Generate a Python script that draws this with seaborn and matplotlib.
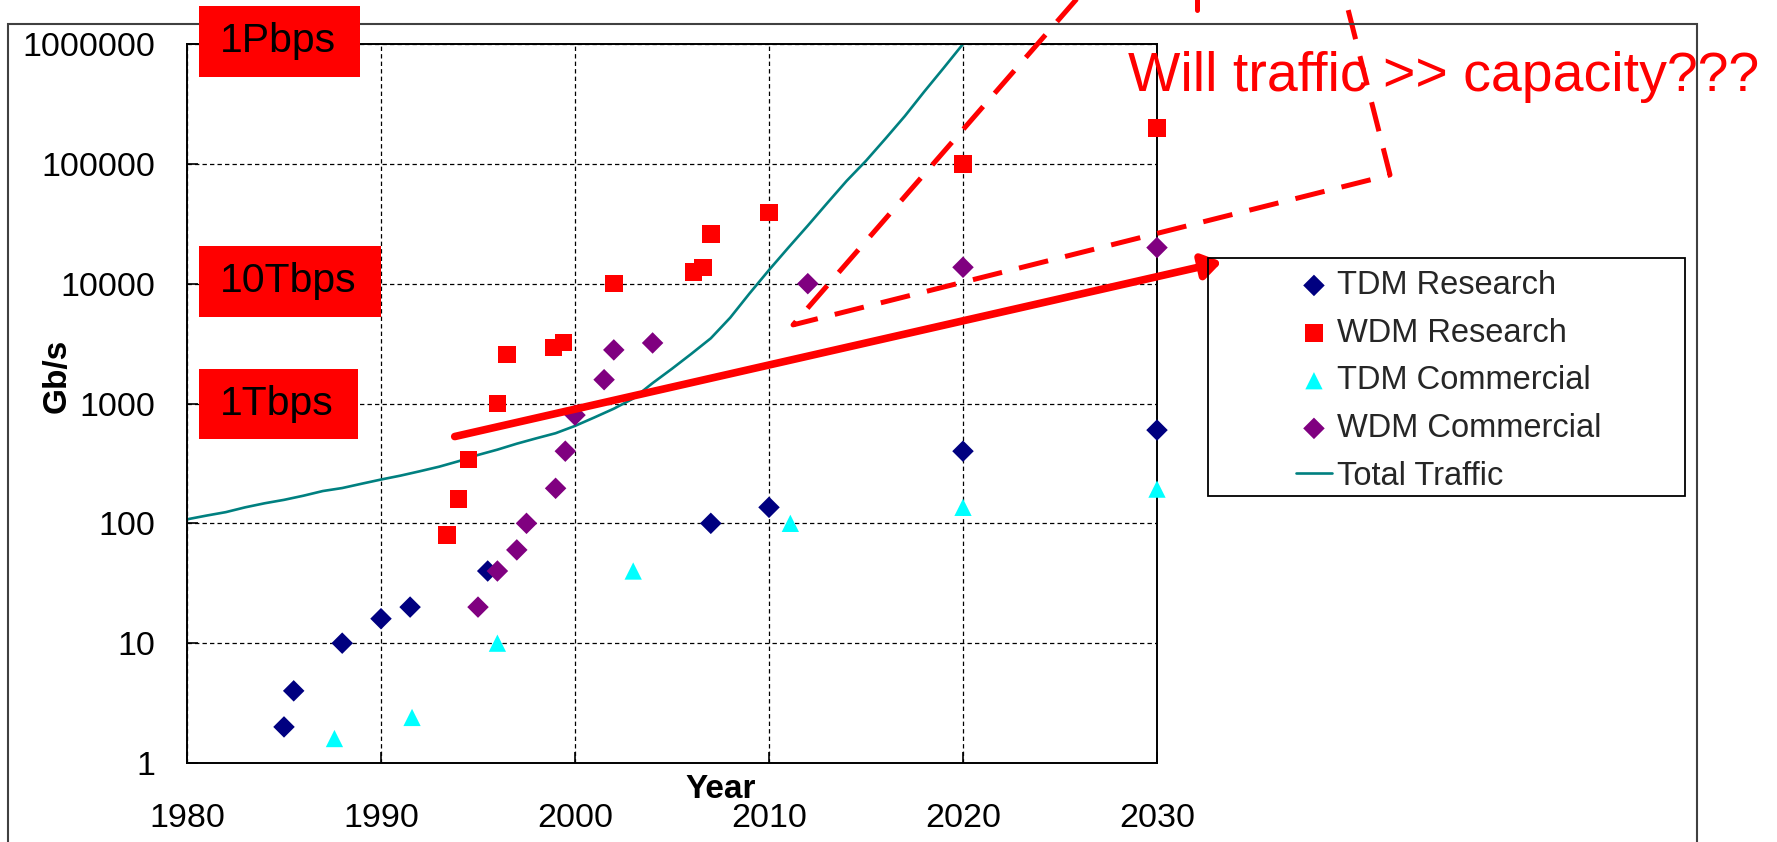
import matplotlib
matplotlib.use("Agg")
import matplotlib.pyplot as plt
import seaborn as sns
from matplotlib.patches import Rectangle
from matplotlib.ticker import NullLocator

# ---------------- data ----------------
tdm_research_year = [1985.0, 1985.5, 1988.0, 1990.0, 1991.5, 1995.5, 2007.0, 2010.0, 2020.0, 2030.0]
tdm_research_gbps = [2, 4, 10, 16, 20, 40, 100, 136, 400, 600]

wdm_research_year = [1993.4, 1994.0, 1994.5, 1996.0, 1996.5, 1998.9, 1999.4, 2002.0,
                     2006.1, 2006.6, 2007.0, 2010.0, 2020.0, 2030.0]
wdm_research_gbps = [80, 160, 340, 1000, 2560, 2930, 3220, 10000,
                     12500, 13600, 25900, 39300, 100000, 200000]

tdm_comm_year = [1987.6, 1991.6, 1996.0, 2003.0, 2011.1, 2020.0, 2030.0]
tdm_comm_gbps = [1.6, 2.4, 10, 40, 100, 136, 193]

wdm_comm_year = [1995.0, 1996.0, 1997.0, 1997.5, 1999.0, 1999.5, 2000.0, 2001.5,
                 2002.0, 2004.0, 2012.0, 2020.0, 2030.0]
wdm_comm_gbps = [20, 40, 60, 100, 196, 400, 800, 1580, 2800, 3200, 10000, 13700, 20000]

traffic_year = list(range(1980, 2021))
traffic_gbps = [108, 116, 124, 136, 147, 157, 170, 186, 197, 214,
                232, 250, 272, 297, 330, 372, 412, 462, 512, 565,
                650, 765, 905, 1100, 1480, 1950, 2600, 3500, 5200, 8300,
                13000, 20000, 30500, 47000, 72000, 106000, 162000, 250000, 400000, 630000,
                1000000]

x_ticks = [1980, 1990, 2000, 2010, 2020, 2030]
y_ticks = [1, 10, 100, 1000, 10000, 100000, 1000000]
y_tick_labels = ["1", "10", "100", "1000", "10000", "100000", "1000000"]

series_labels = ["TDM Research", "WDM Research", "TDM Commercial", "WDM Commercial", "Total Traffic"]
box_labels = ["1Pbps", "10Tbps", "1Tbps"]
question_text = "Will traffic >> capacity???"

# annotation overlay (data coordinates)
arrow_start = (1993.8, 530)
arrow_end = (2033.35, 15200)
dash_x = [2027.17, 2011.24, 2042.01, 2039.33]
dash_y = [4.16e6, 4530, 80900, 4.16e6]
tick_dash_x = [2032.06, 2032.06]
tick_dash_y = [4.16e6, 1.93e6]

# ---------------- figure ----------------
sns.set_style("white")
plt.rcParams["font.family"] = ["Liberation Sans", "DejaVu Sans"]

W, H = 1777, 842
fig = plt.figure(figsize=(W / 100, H / 100), dpi=100)


def fx(px):
    return px / W


def fy(py):
    return 1 - py / H


ax = fig.add_axes([fx(187), fy(763), fx(1157) - fx(187), fy(44) - fy(763)])
ax.set_yscale("log")
ax.set_xlim(1980, 2030)
ax.set_ylim(1, 1e6)

sns.scatterplot(x=tdm_research_year, y=tdm_research_gbps, marker="D", s=120,
                color="#000080", edgecolor="none", ax=ax, label=series_labels[0],
                zorder=3, clip_on=False)
sns.scatterplot(x=wdm_research_year, y=wdm_research_gbps, marker="s", s=160,
                color="#FF0000", edgecolor="none", ax=ax, label=series_labels[1],
                zorder=3, clip_on=False)
sns.scatterplot(x=tdm_comm_year, y=tdm_comm_gbps, marker="^", s=155,
                color="#00FFFF", edgecolor="none", ax=ax, label=series_labels[2],
                zorder=3, clip_on=False)
sns.scatterplot(x=wdm_comm_year, y=wdm_comm_gbps, marker="D", s=120,
                color="#800080", edgecolor="none", ax=ax, label=series_labels[3],
                zorder=3, clip_on=False)
sns.lineplot(x=traffic_year, y=traffic_gbps, color="#008080", linewidth=1.9,
             ax=ax, label=series_labels[4], sort=False, estimator=None, zorder=2)

ax.set_xticks(x_ticks)
ax.set_xticklabels([str(v) for v in x_ticks])
ax.set_yticks(y_ticks)
ax.set_yticklabels(y_tick_labels)
ax.yaxis.set_minor_locator(NullLocator())
ax.xaxis.set_minor_locator(NullLocator())
ax.set_xlabel("")
ax.set_ylabel("")
ax.tick_params(axis="both", which="major", direction="in", length=8, width=1.2,
               labelsize=24.5, colors="black", left=True, bottom=True)
ax.tick_params(axis="y", pad=23)
ax.tick_params(axis="x", pad=29)
ax.grid(True, which="major", color="black", linestyle=(0, (3.5, 2.5)), linewidth=0.9)
ax.set_axisbelow(True)
for sp in ax.spines.values():
    sp.set_color("black")
    sp.set_linewidth(1.4)
    sp.set_visible(True)

# overlay annotations
ax.plot(dash_x, dash_y, color="red", linewidth=3.6, linestyle=(0, (6, 3.5)),
        clip_on=False, zorder=4, solid_joinstyle="miter")
ax.plot(tick_dash_x, tick_dash_y, color="red", linewidth=3.6, clip_on=False, zorder=4)
ax.annotate("", xy=arrow_end, xytext=arrow_start, xycoords="data", textcoords="data",
            annotation_clip=False, zorder=4,
            arrowprops=dict(arrowstyle="-|>,head_length=0.55,head_width=0.36", color="red",
                            lw=5.5, shrinkA=0, shrinkB=0, mutation_scale=20))

# legend
handles, labels = ax.get_legend_handles_labels()
order = [labels.index(l) for l in series_labels]
leg = ax.legend([handles[i] for i in order], [labels[i] for i in order],
                loc="upper left", bbox_to_anchor=(fx(1296), fy(270)),
                bbox_transform=fig.transFigure, frameon=False, fontsize=23.5,
                borderpad=0, borderaxespad=0, handlelength=1.1, handletextpad=0.15,
                labelspacing=0.51, scatterpoints=1)
leg.set_zorder(6)
fig.add_artist(Rectangle((fx(1208), fy(496)), fx(1685) - fx(1208), fy(258) - fy(496),
                         transform=fig.transFigure, facecolor="none", edgecolor="black",
                         linewidth=1.3, zorder=5))

# outer chart-area frame
fig.add_artist(Rectangle((fx(8), -0.1), fx(1697) - fx(8), fy(24) + 0.1,
                         transform=fig.transFigure, facecolor="none", edgecolor="#404040",
                         linewidth=1.5, zorder=1))

# red boxes with labels
boxes = [(199, 360, 6, 77), (199, 381, 246, 317), (199, 358, 369, 439)]
for (x0, x1, y0, y1), txt in zip(boxes, box_labels):
    fig.add_artist(Rectangle((fx(x0), fy(y1)), fx(x1) - fx(x0), fy(y0) - fy(y1),
                             transform=fig.transFigure, facecolor="#FF0000",
                             edgecolor="none", zorder=7))
    fig.text(fx(220), fy((y0 + y1) / 2), txt, ha="left", va="center",
             fontsize=29.5, color="black", zorder=8)

# axis labels
fig.text(fx(721), fy(798), "Year", ha="center", va="baseline", fontsize=24,
         fontweight="bold", color="black")
fig.text(fx(57), fy(376), "Gb/s", ha="center", va="center", rotation=90,
         fontsize=24, fontweight="bold", color="black")

# question text
fig.text(fx(1128), fy(91), question_text, ha="left", va="baseline", fontsize=40,
         color="#FF0000", zorder=8)

fig.savefig("out.png", dpi=100)
